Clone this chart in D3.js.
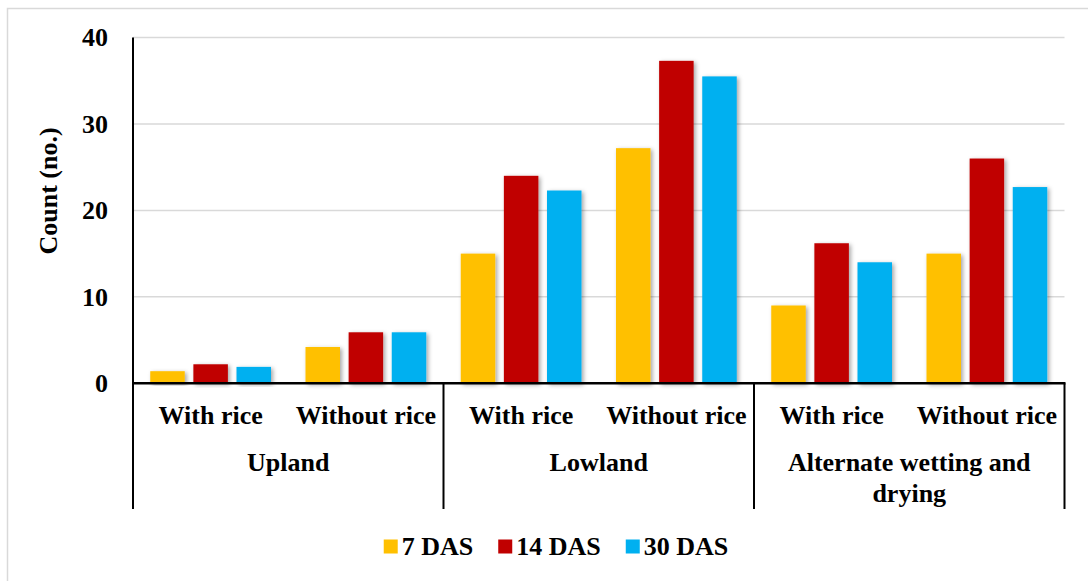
<!DOCTYPE html>
<html>
<head>
<meta charset="utf-8">
<script src="https://cdn.jsdelivr.net/npm/d3@7"></script>
<style>
  html, body { margin: 0; padding: 0; background: #fff; }
  svg text { font-family: "Liberation Serif", "Times New Roman", serif; font-weight: bold; fill: #000; }
</style>
</head>
<body>
<svg id="chart" width="1088" height="581"></svg>
<script>
// Water regimes (outer categories) and crop treatments (inner categories)
const regimes = ["Upland", "Lowland", "Alternate wetting and drying"];
const treatments = ["With rice", "Without rice"];
const seriesNames = ["7 DAS", "14 DAS", "30 DAS"];
const seriesColors = ["#FFC000", "#C00000", "#00B0F0"];
const yTicks = [0, 10, 20, 30, 40];

// Counts per series, in order: Upland/with, Upland/without, Lowland/with, Lowland/without, AWD/with, AWD/without
const das7  = [1.4, 4.2, 15.0, 27.2, 9.0, 15.0];
const das14 = [2.2, 5.9, 24.0, 37.3, 16.2, 26.0];
const das30 = [1.9, 5.9, 22.3, 35.5, 14.0, 22.7];
const seriesValues = [das7, das14, das30];

const svg = d3.select("#chart");
const plotLeft = 133, plotRight = 1064.5, plotTop = 37.5, plotBottom = 383.3;

// Subtle drop shadow under bars
const defs = svg.append("defs");
const f = defs.append("filter").attr("id", "shadow")
  .attr("x", "-20%").attr("y", "-20%").attr("width", "150%").attr("height", "140%");
f.append("feDropShadow").attr("dx", 2).attr("dy", 1.5).attr("stdDeviation", 2)
  .attr("flood-color", "#000").attr("flood-opacity", 0.35);

// Outer chart frame (only top and left edges fall inside the view)
svg.append("rect").attr("x", 7.5).attr("y", 8.5).attr("width", 1200).attr("height", 700)
  .attr("fill", "none").attr("stroke", "#d9d9d9").attr("stroke-width", 1.5);

// Build flat list of inner groups
const groups = [];
regimes.forEach(r => treatments.forEach(t => groups.push(r + "|" + t)));

const x0 = d3.scaleBand().domain(groups).range([plotLeft, plotRight]).padding(0);
const x1 = d3.scaleBand().domain(seriesNames).range([0, x0.bandwidth()])
  .paddingInner(0.2).paddingOuter(0.4);
const y = d3.scaleLinear().domain([0, 40]).range([plotBottom, plotTop]);

// Gridlines
svg.append("g").selectAll("line").data(yTicks.filter(d => d > 0)).join("line")
  .attr("x1", plotLeft).attr("x2", plotRight)
  .attr("y1", d => y(d)).attr("y2", d => y(d))
  .attr("stroke", "#d9d9d9").attr("stroke-width", 1.5);

// Y axis labels
const yAxis = d3.axisLeft(y).tickValues(yTicks).tickSize(0).tickPadding(25).tickFormat(d3.format("d"));
const yg = svg.append("g").attr("transform", `translate(${plotLeft},0)`).call(yAxis);
yg.select(".domain").remove();
yg.attr("font-family", null).attr("font-size", null);
yg.selectAll("text").style("font-size", "26px");

// Bars
const barData = [];
seriesValues.forEach((vals, si) => vals.forEach((v, gi) => barData.push({ g: groups[gi], s: seriesNames[si], si, v })));
svg.append("g").selectAll("rect").data(barData).join("rect")
  .attr("x", d => x0(d.g) + x1(d.s))
  .attr("y", d => y(d.v))
  .attr("width", x1.bandwidth())
  .attr("height", d => y(0) - y(d.v))
  .attr("fill", d => seriesColors[d.si])
  .attr("filter", "url(#shadow)");

// Y axis line
svg.append("line").attr("x1", plotLeft).attr("x2", plotLeft).attr("y1", plotTop).attr("y2", plotBottom)
  .attr("stroke", "#000").attr("stroke-width", 2);
// X axis line
svg.append("line").attr("x1", plotLeft - 1).attr("x2", plotRight + 1).attr("y1", plotBottom).attr("y2", plotBottom)
  .attr("stroke", "#000").attr("stroke-width", 2.5);

// Regime separators
const sepBottom = 509;
const regimeEdges = regimes.map(r => x0(r + "|" + treatments[0])).concat([plotRight]);
svg.append("g").selectAll("line").data(regimeEdges).join("line")
  .attr("x1", d => d).attr("x2", d => d)
  .attr("y1", plotBottom).attr("y2", sepBottom)
  .attr("stroke", "#000").attr("stroke-width", 2);

// Treatment labels
svg.append("g").selectAll("text").data(groups).join("text")
  .attr("x", d => x0(d) + x0.bandwidth() / 2)
  .attr("y", 424)
  .attr("text-anchor", "middle")
  .style("font-size", "26px")
  .text(d => d.split("|")[1]);

// Regime labels (wrapped to fit the regime span)
const regimeLabelLines = [["Upland"], ["Lowland"], ["Alternate wetting and", "drying"]];
regimes.forEach((r, i) => {
  const cx = (regimeEdges[i] + regimeEdges[i + 1]) / 2;
  const t = svg.append("text").attr("text-anchor", "middle").style("font-size", "26px");
  regimeLabelLines[i].forEach((line, li) => {
    t.append("tspan").attr("x", cx).attr("y", 471 + li * 31).text(line);
  });
});

// Y axis title
svg.append("text")
  .attr("transform", "translate(57,191) rotate(-90)")
  .attr("text-anchor", "middle")
  .style("font-size", "26px")
  .text("Count (no.)");

// Legend
const legend = svg.append("g");
let lx = 0;
seriesNames.forEach((name, i) => {
  const item = legend.append("g").attr("transform", `translate(${lx},0)`);
  item.append("rect").attr("x", 0).attr("y", 539.5).attr("width", 14).attr("height", 14)
    .attr("fill", seriesColors[i]);
  const t = item.append("text").attr("x", 18).attr("y", 555).style("font-size", "26px").text(name);
  lx += 18 + t.node().getComputedTextLength() + 25;
});
const legendWidth = lx - 25;
legend.attr("transform", `translate(${556 - legendWidth / 2},0)`);
</script>
</body>
</html>
